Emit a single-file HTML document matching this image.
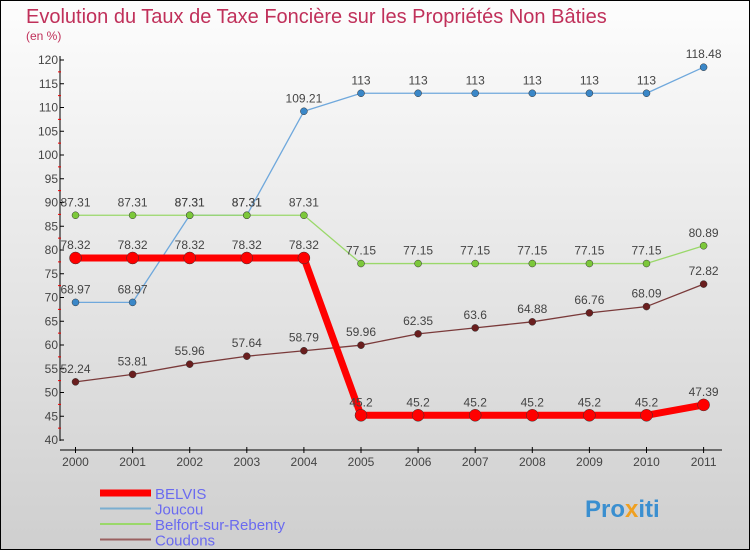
<!DOCTYPE html>
<html><head><meta charset="utf-8"><style>
body{margin:0}
#wrap{position:relative;width:750px;height:550px;box-sizing:border-box;border:1px solid #000;background:linear-gradient(#fdfdfd,#cfcfcf);font-family:"Liberation Sans",sans-serif;overflow:hidden}
</style></head><body>
<div id="wrap">
<svg id="c" width="750" height="550" style="position:absolute;left:-1px;top:-1px">
<text x="26" y="23" font-size="20" fill="#c0305a">Evolution du Taux de Taxe Foncière sur les Propriétés Non Bâties</text>
<text x="26" y="40" font-size="12" fill="#c0305a">(en %)</text>
<g id="axes"></g><g id="series"></g><g id="legend"></g>
<text x="585" y="517" font-size="24" font-weight="bold" fill="#3a8fd0">Pro<tspan fill="#f0a020">x</tspan>iti</text>
</svg>
</div>
<script>
const years=[2000,2001,2002,2003,2004,2005,2006,2007,2008,2009,2010,2011];
const belvis=[78.32,78.32,78.32,78.32,78.32,45.2,45.2,45.2,45.2,45.2,45.2,47.39];
const joucou=[68.97,68.97,87.31,87.31,109.21,113,113,113,113,113,113,118.48];
const belfort=[87.31,87.31,87.31,87.31,87.31,77.15,77.15,77.15,77.15,77.15,77.15,80.89];
const coudons=[52.24,53.81,55.96,57.64,58.79,59.96,62.35,63.6,64.88,66.76,68.09,72.82];
const yTicks=[40,45,50,55,60,65,70,75,80,85,90,95,100,105,110,115,120];
const NS="http://www.w3.org/2000/svg";
const X=i=>75.5+i*57.1, Y=v=>440-(v-40)*4.75;
function mk(t,a,p){const e=document.createElementNS(NS,t);for(const k in a)e.setAttribute(k,a[k]);p.appendChild(e);return e;}
const ax=document.getElementById('axes');
let l=mk('line',{x1:60,y1:56,x2:60,y2:441,stroke:'#000'},ax);

l=mk('line',{x1:60,y1:450,x2:722,y2:450,stroke:'#000'},ax);

yTicks.forEach((v,i)=>{
 mk('line',{x1:60,y1:Y(v),x2:64,y2:Y(v),stroke:'#000'},ax);
 if(i<yTicks.length-1)mk('line',{x1:58,y1:Y(v+2.5),x2:61,y2:Y(v+2.5),stroke:'#e00'},ax);
 const t=mk('text',{x:58,y:Y(v)+4,'font-size':12,'text-anchor':'end',fill:'#444'},ax);t.textContent=v;
 
});
years.forEach((y,i)=>{
 mk('line',{x1:X(i),y1:447,x2:X(i),y2:453,stroke:'#000'},ax);
 const t=mk('text',{x:X(i),y:466,'font-size':12,'text-anchor':'middle',fill:'#444'},ax);t.textContent=y;
 
});
const sg=document.getElementById('series');
function series(name,vals,color,w,r,dot){
 const g=mk('g',{},sg);
 const p=mk('polyline',{points:vals.map((v,i)=>X(i)+','+Y(v)).join(' '),fill:'none',stroke:color,'stroke-width':w,'stroke-linejoin':'round'},g);
 
 vals.forEach((v,i)=>{
  const c=mk('circle',{cx:X(i),cy:Y(v),r:r,fill:dot,stroke:'#333','stroke-width':0.5},g);
  
  const t=mk('text',{x:X(i),y:Y(v)-9,'font-size':12,'text-anchor':'middle',fill:'#444'},g);t.textContent=String(v).replace('.','.');
  
 });
}
series('joucou',joucou,'#6fa8dc',1.3,3.5,'#3a87c8');
series('belfort',belfort,'#9ad86a',1.3,3.5,'#7cc83a');
series('coudons',coudons,'#7a3a3a',1.3,3.5,'#6a1e1e');
series('belvis',belvis,'#f00',7,6,'#f00');
const lg=document.getElementById('legend');
[['BELVIS','#f00',7],['Joucou','#7aaed0',2],['Belfort-sur-Rebenty','#9ad86a',2],['Coudons','#9a6060',2]].forEach((d,i)=>{
 const y=493+i*15.5;
 const r=mk('line',{x1:100,y1:y,x2:151,y2:y,stroke:d[1],'stroke-width':d[2]},lg);
 
 const t=mk('text',{x:155,y:y+6,'font-size':15,fill:'#6a6af0'},lg);t.textContent=d[0];
 
});
</script>
</body></html>
